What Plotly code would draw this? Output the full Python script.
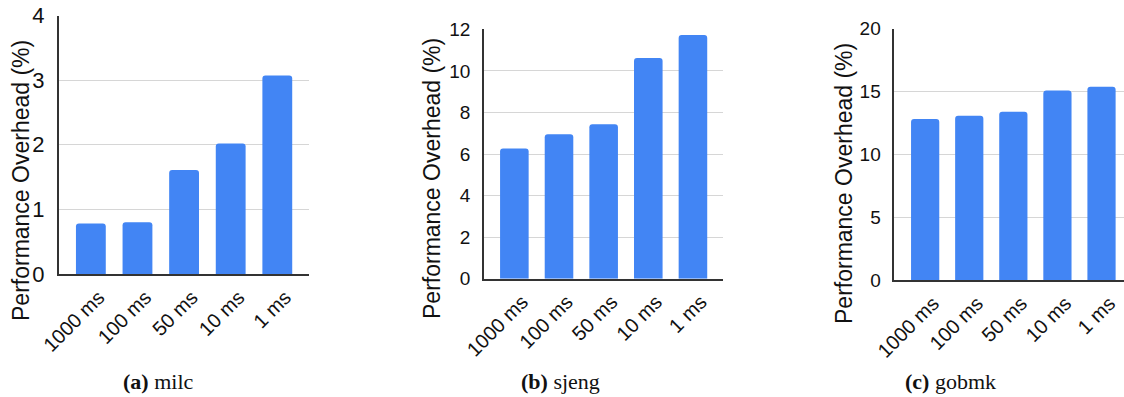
import plotly.graph_objects as go

# Sampling intervals and measured overhead (%) per benchmark
categories = ["1000 ms", "100 ms", "50 ms", "10 ms", "1 ms"]
milc = [0.78, 0.80, 1.61, 2.02, 3.07]
sjeng = [6.27, 6.95, 7.43, 10.62, 11.73]
gobmk = [12.81, 13.07, 13.39, 15.09, 15.38]

y_ranges = [[0, 4], [0, 12], [0, 20]]
y_dtick = [1, 2, 5]
captions = ["<b>(a)</b> milc", "<b>(b)</b> sjeng", "<b>(c)</b> gobmk"]

W, H = 1124, 397
BAR = "#4285F4"
AXIS = "#333333"
GRID = "#d6d6d6"
SANS = "Liberation Sans, Arial, sans-serif"
SERIF = "Liberation Serif, Times New Roman, serif"

# panel geometry in pixels: (left, right, top, bottom)
panels = [(58.7, 309.0, 15.5, 274.0),
          (484.0, 723.3, 29.3, 278.7),
          (894.3, 1124.0, 28.7, 280.0)]
x_ranges = [[-0.69, 4.68], [-0.68, 4.68], [-0.70, 4.51]]
ytick_size = [22, 19, 19]
title_x = [21, 432, 844]
title_y = [181, 179, 184]
caption_x = [158, 560, 950]

fig = go.Figure()
series = [milc, sjeng, gobmk]
layout = dict(
    template="none",
    width=W, height=H,
    margin=dict(l=0, r=0, t=0, b=0, autoexpand=False),
    paper_bgcolor="white", plot_bgcolor="white",
    showlegend=False,
    barcornerradius=3,
    annotations=[],
)

for i, vals in enumerate(series):
    n = "" if i == 0 else str(i + 1)
    fig.add_trace(go.Bar(
        x=categories, y=vals, width=0.64,
        marker=dict(color=BAR, line=dict(width=0)),
        xaxis="x" + n, yaxis="y" + n,
    ))
    l, r, t, b = panels[i]
    layout["xaxis" + n] = dict(
        domain=[l / W, r / W], anchor="y" + n, automargin=False,
        type="category", range=x_ranges[i],
        showline=True, linecolor=AXIS, linewidth=1.5,
        showgrid=False, ticks="", tickangle=-45,
        ticklabelshift=8, ticklabelstandoff=2,
        tickfont=dict(family=SANS, size=20, color="#111"),
    )
    layout["yaxis" + n] = dict(
        domain=[1 - b / H, 1 - t / H], anchor="x" + n, automargin=False,
        range=y_ranges[i], dtick=y_dtick[i],
        showline=True, linecolor=AXIS, linewidth=1.5,
        showgrid=True, gridcolor=GRID, gridwidth=1,
        zeroline=False,
        ticks="outside", ticklen=8, tickcolor="rgba(0,0,0,0)",
        tickfont=dict(family=SANS, size=ytick_size[i], color="#111"),
    )
    layout["annotations"].append(dict(
        text="Performance Overhead (%)", textangle=-90,
        x=title_x[i] / W, y=1 - title_y[i] / H,
        xref="paper", yref="paper", showarrow=False,
        xanchor="center", yanchor="middle",
        font=dict(family=SANS, size=23, color="#111"),
    ))
    layout["annotations"].append(dict(
        text=captions[i],
        x=caption_x[i] / W, y=1 - 381 / H,
        xref="paper", yref="paper", showarrow=False,
        xanchor="center", yanchor="middle",
        font=dict(family=SERIF, size=22, color="#111"),
    ))

fig.update_layout(**layout)
fig.write_html("out.html")
